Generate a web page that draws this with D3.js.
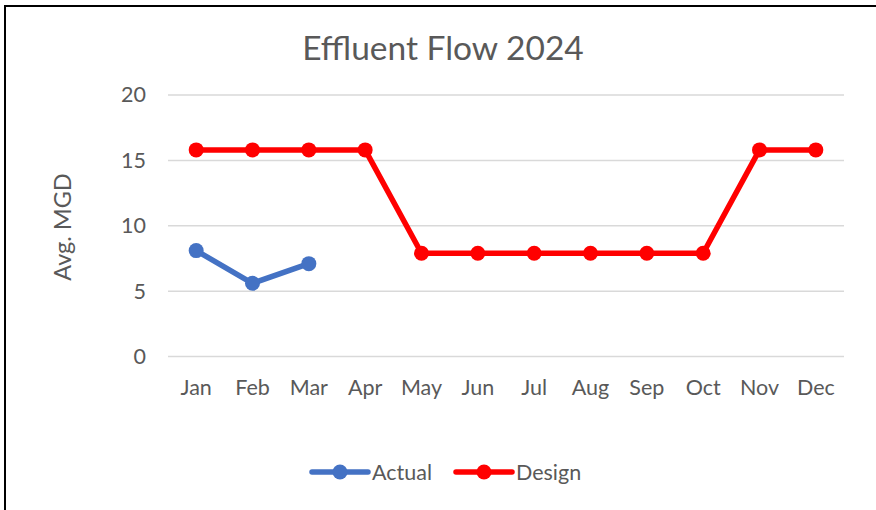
<!DOCTYPE html>
<html>
<head>
<meta charset="utf-8">
<script src="https://cdn.jsdelivr.net/npm/d3@7"></script>
<style>
  html, body { margin: 0; padding: 0; background: #fff; }
  svg { display: block; font-family: Lato, "Open Sans", sans-serif; }
</style>
</head>
<body>
<svg id="chart" width="876" height="510"></svg>
<script>
const months = ["Jan", "Feb", "Mar", "Apr", "May", "Jun", "Jul", "Aug", "Sep", "Oct", "Nov", "Dec"];
const actual = [8.1, 5.6, 7.1];
const design = [15.8, 15.8, 15.8, 15.8, 7.9, 7.9, 7.9, 7.9, 7.9, 7.9, 15.8, 15.8];
const yTicks = [0, 5, 10, 15, 20];

const series = [
  { name: "Actual", values: actual, color: "#4472C4" },
  { name: "Design", values: design, color: "#FF0000" }
];

const svg = d3.select("#chart");
const textColor = "#595959";

// outer chart border (right/bottom sit outside the picture)
svg.append("rect")
  .attr("x", 5).attr("y", 6)
  .attr("width", 900).attr("height", 520)
  .attr("fill", "none")
  .attr("stroke", "#000")
  .attr("stroke-width", 2);

const x = d3.scaleBand().domain(months).range([168, 844]);
const y = d3.scaleLinear().domain([0, 20]).range([356.5, 95]);

// gridlines
svg.append("g")
  .selectAll("line")
  .data(yTicks)
  .join("line")
  .attr("x1", 168).attr("x2", 844)
  .attr("y1", d => y(d)).attr("y2", d => y(d))
  .attr("stroke", "#D9D9D9")
  .attr("stroke-width", 1.5);

// y axis
const yAxis = svg.append("g")
  .attr("transform", "translate(146,0)")
  .call(d3.axisLeft(y).tickValues(yTicks).tickSize(0).tickPadding(0));
yAxis.select(".domain").remove();
yAxis.selectAll("text")
  .attr("fill", textColor)
  .style("font-size", "21.5px")
  .style("font-family", "Lato, sans-serif");

// x axis
const xAxis = svg.append("g")
  .attr("transform", "translate(0,356.5)")
  .call(d3.axisBottom(x).tickSize(0).tickPadding(23));
xAxis.select(".domain").remove();
xAxis.selectAll("text")
  .attr("fill", textColor)
  .style("font-size", "21.5px")
  .style("font-family", "Lato, sans-serif");

// title
svg.append("text")
  .attr("x", 443).attr("y", 60)
  .attr("text-anchor", "middle")
  .attr("fill", textColor)
  .style("font-size", "33.5px")
  .text("Effluent Flow 2024");

// y label
svg.append("text")
  .attr("transform", "translate(71,227) rotate(-90)")
  .attr("text-anchor", "middle")
  .attr("fill", textColor)
  .style("font-size", "23.5px")
  .text("Avg. MGD");

const line = d3.line()
  .x((d, i) => x(months[i]) + x.bandwidth() / 2)
  .y(d => y(d));

series.forEach(s => {
  const g = svg.append("g");
  g.append("path")
    .attr("d", line(s.values))
    .attr("fill", "none")
    .attr("stroke", s.color)
    .attr("stroke-width", 5.5)
    .attr("stroke-linejoin", "round");
  g.selectAll("circle")
    .data(s.values)
    .join("circle")
    .attr("cx", (d, i) => x(months[i]) + x.bandwidth() / 2)
    .attr("cy", d => y(d))
    .attr("r", 7.5)
    .attr("fill", s.color);
});

// legend
const legendX = [312, 456];
const legend = svg.append("g")
  .selectAll("g")
  .data(series)
  .join("g")
  .attr("transform", (d, i) => `translate(${legendX[i]},472)`);
legend.append("line")
  .attr("x1", 0).attr("x2", 56)
  .attr("stroke", d => d.color)
  .attr("stroke-width", 5.5)
  .attr("stroke-linecap", "round");
legend.append("circle")
  .attr("cx", 28).attr("r", 7.5)
  .attr("fill", d => d.color);
legend.append("text")
  .attr("x", 60).attr("y", 8)
  .attr("fill", textColor)
  .style("font-size", "21.5px")
  .text(d => d.name);
</script>
</body>
</html>
